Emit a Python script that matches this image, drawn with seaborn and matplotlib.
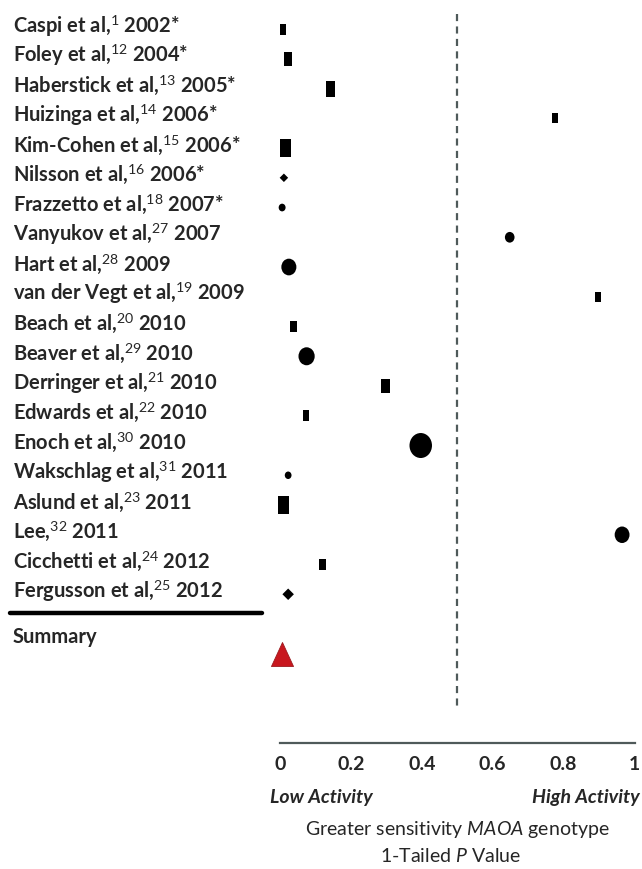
import matplotlib.pyplot as plt
import pandas as pd
import seaborn as sns
from matplotlib.path import Path
from matplotlib.transforms import Affine2D


# study labels, reference numbers, years
authors = ['Caspi et al,', 'Foley et al,', 'Haberstick et al,', 'Huizinga et al,',
           'Kim-Cohen et al,', 'Nilsson et al,', 'Frazzetto et al,', 'Vanyukov et al,',
           'Hart et al,', 'van der Vegt et al,', 'Beach et al,', 'Beaver et al,',
           'Derringer et al,', 'Edwards et al,', 'Enoch et al,', 'Wakschlag et al,',
           'Aslund et al,', 'Lee,', 'Cicchetti et al,', 'Fergusson et al,']
refs = ['1', '12', '13', '14', '15', '16', '18', '27', '28', '19',
        '20', '29', '21', '22', '30', '31', '23', '32', '24', '25']
years = ['2002*', '2004*', '2005*', '2006*', '2006*', '2006*', '2007*', '2007',
         '2009', '2009', '2010', '2010', '2010', '2010', '2010', '2011',
         '2011', '2011', '2012', '2012']

# one-tailed p values
p_values = [0.009, 0.023, 0.143, 0.777, 0.016, 0.011, 0.006, 0.648,
            0.025, 0.897, 0.037, 0.075, 0.298, 0.073, 0.397, 0.023,
            0.010, 0.965, 0.120, 0.023]
shapes = ['rect', 'rect', 'rect', 'rect', 'rect', 'diamond', 'circle', 'circle',
          'circle', 'rect', 'rect', 'circle', 'rect', 'rect', 'circle', 'circle',
          'rect', 'circle', 'rect', 'diamond']
summary_p = 0.005

# marker heights in pixels
marker_px = [11, 14, 16, 10, 18, 8.5, 7.7, 10.7, 16.7, 10, 11.5, 18, 14.7, 11,
             25, 7.5, 18.7, 16.5, 11.3, 11.5]

df = pd.DataFrame({'p': p_values, 'shape': shapes, 'row': range(len(p_values))})

sns.set_style('white')
plt.rcParams['font.family'] = ['Lato', 'DejaVu Sans']
plt.rcParams['mathtext.fontset'] = 'custom'
plt.rcParams['mathtext.rm'] = 'Lato'
plt.rcParams['mathtext.it'] = 'Lato:italic'
plt.rcParams['mathtext.bf'] = 'Lato:bold'

rect = Path([(-0.3, -0.5), (0.3, -0.5), (0.3, 0.5), (-0.3, 0.5), (-0.3, -0.5)],
            [Path.MOVETO, Path.LINETO, Path.LINETO, Path.LINETO, Path.CLOSEPOLY])
diamond = Path([(0, -0.5), (0.5, 0), (0, 0.5), (-0.5, 0), (0, -0.5)],
               [Path.MOVETO, Path.LINETO, Path.LINETO, Path.LINETO, Path.CLOSEPOLY])
ellipse = Affine2D().scale(0.9, 1.0).transform_path(Path.unit_circle())
triangle = Path([(0, 0.5), (-0.46, -0.5), (0.46, -0.5), (0, 0.5)],
                [Path.MOVETO, Path.LINETO, Path.LINETO, Path.CLOSEPOLY])

px = 72 / 100
fig = plt.figure(figsize=(6.42, 8.69), dpi=100)
ax = fig.add_axes([280 / 642, 1 - 743 / 869, 354.5 / 642, 733 / 869])

sns.scatterplot(data=df, x='p', y='row', style='shape',
                markers={'rect': rect, 'diamond': diamond, 'circle': ellipse},
                s=[(h * px) ** 2 for h in marker_px], color='black',
                linewidth=0, legend=False, clip_on=False, ax=ax)
ax.scatter([summary_p], [21.0], marker=triangle, s=(24 * px) ** 2,
           color='#c8171e', edgecolor='#9b1a1e', linewidth=0.6, clip_on=False, zorder=3)

# dashed null line
ax.plot([0.5, 0.5], [-0.5, 22.85], color='#4f5a5a', lw=1.6,
        linestyle=(0, (3.2, 2.4)))

# study labels
for i, (a, r, y) in enumerate(zip(authors, refs, years)):
    ax.text(-0.753, i - 0.1, f'{a}$^{{{r}}}$ {y}', ha='left', va='center',
            fontsize=14.5, fontweight='bold', clip_on=False)
ax.plot([-0.762, -0.051], [19.63, 19.63], color='black', lw=3.2,
        solid_capstyle='round', clip_on=False)
ax.text(-0.753, 20.45, 'Summary', ha='left', va='center',
        fontsize=14.5, fontweight='bold', clip_on=False)

ax.set_xlim(0, 1)
ax.set_ylim(24.0, -0.64)
ax.set_yticks([])
ax.set_xlabel('')
ax.set_ylabel('')
for side in ['top', 'left', 'right']:
    ax.spines[side].set_visible(False)
ax.spines['bottom'].set_color('#4f5a5a')
ax.spines['bottom'].set_linewidth(1.6)
ticks = [0, 0.2, 0.4, 0.6, 0.8, 1]
ax.set_xticks(ticks, ['0', '0.2', '0.4', '0.6', '0.8', '1'])
ax.tick_params(axis='x', direction='in', length=4, width=1.4, color='#4f5a5a',
               pad=9, labelsize=14)
for lab in ax.get_xticklabels():
    lab.set_fontweight('bold')

fig.text(270 / 642, 1 - 798 / 869, 'Low Activity', ha='left', va='center',
         fontsize=14, fontweight='bold', fontstyle='italic')
fig.text(640 / 642, 1 - 798 / 869, 'High Activity', ha='right', va='center',
         fontsize=14, fontweight='bold', fontstyle='italic')
fig.text(457 / 642, 1 - 829 / 869, r'Greater sensitivity $\mathit{MAOA}$ genotype',
         ha='center', va='center', fontsize=14)
fig.text(451 / 642, 1 - 856 / 869, r'1-Tailed $\mathit{P}$ Value',
         ha='center', va='center', fontsize=14)

fig.savefig('out.png', dpi=100, facecolor='white')
